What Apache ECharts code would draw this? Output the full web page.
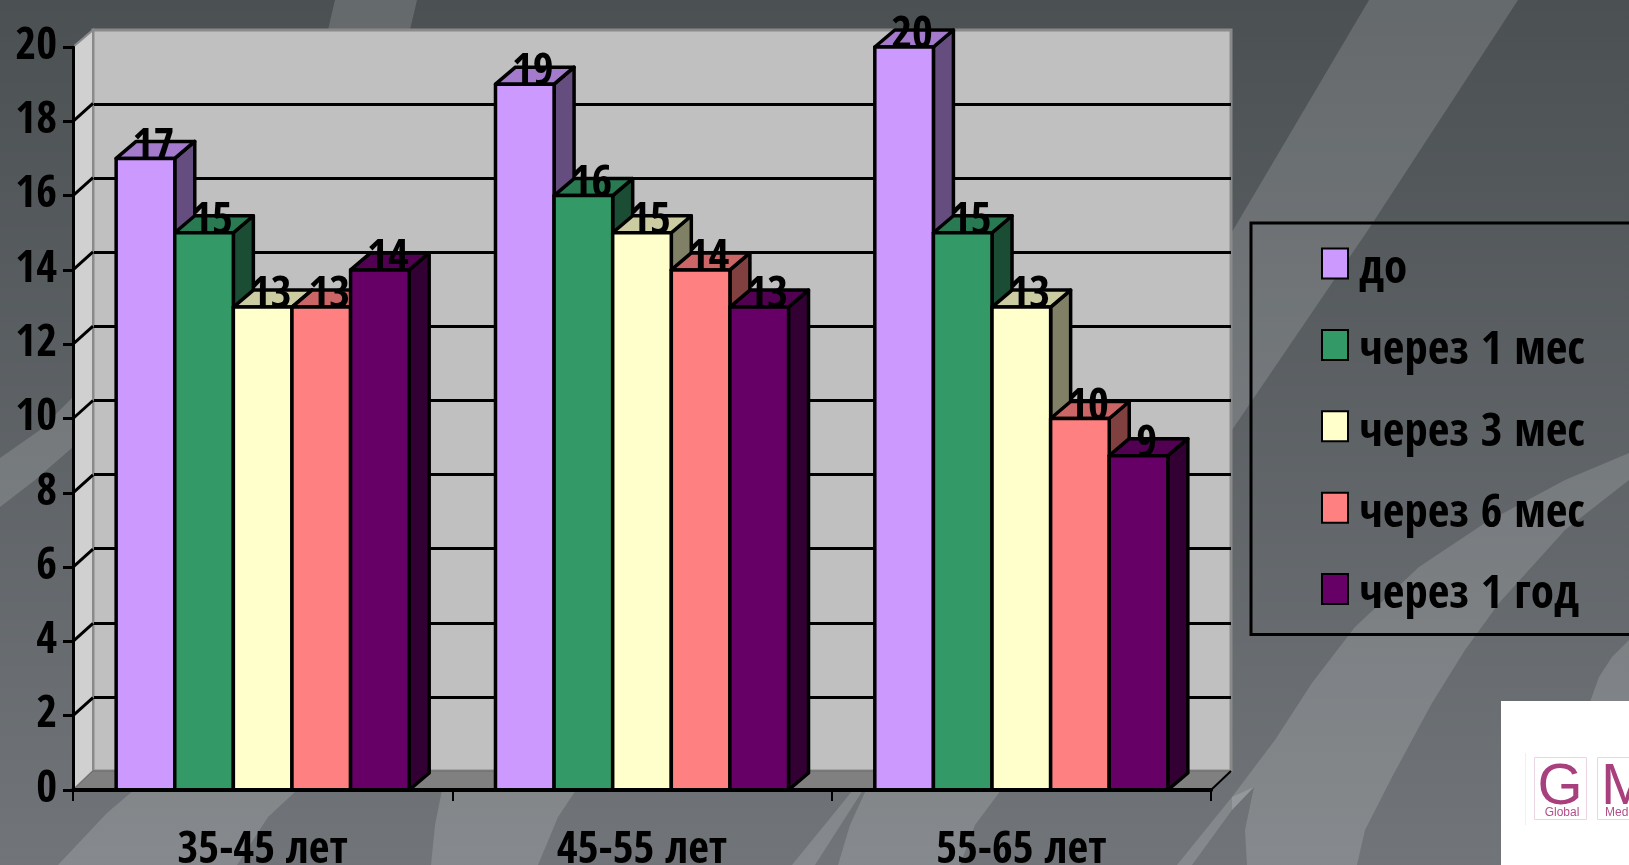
<!DOCTYPE html>
<html><head><meta charset="utf-8">
<style>html,body{margin:0;padding:0;background:#5c6064}#c{width:1629px;height:865px}</style>
<script src="https://cdn.jsdelivr.net/npm/echarts@6/dist/echarts.min.js"></script>
</head><body><div id="c"></div>
<script>
const categories = ['35-45 лет','45-55 лет','55-65 лет'];
const seriesNames = ['до','через 1 мес','через 3 мес','через 6 мес','через 1 год'];
const valuesDo = [17,19,20];
const values1m = [15,16,15];
const values3m = [13,15,13];
const values6m = [13,14,10];
const values1y = [14,13,9];
const yTicks = [0,2,4,6,8,10,12,14,16,18,20];
const allValues = [valuesDo,values1m,values3m,values6m,values1y];
const colors = ['#cc99ff','#339966','#ffffcc','#ff8080','#660066'];
const topColors = ['#a37acc','#297a52','#cccca3','#cc6666','#520052'];
const sideColors = ['#664d80','#1a4d33','#808066','#804040','#330033'];

const FONT = '"Open Sans Condensed"';
const DX = 20, DY = 17, BARW = 0.1545;

function barItem(si){
  return function(params, api){
    const c = api.coord([api.value(0), api.value(1)]);
    const base = api.coord([api.value(0), 0]);
    const band = api.size([1,0])[0];
    const w = band*BARW;
    const x0 = c[0] - 2.5*w + si*w, x1 = x0 + w, t = c[1], b = base[1];
    const line = {stroke:'#000', lineWidth:3.5, lineJoin:'round'};
    return {type:'group', children:[
      {type:'polygon', shape:{points:[[x1,t],[x1+DX,t-DY],[x1+DX,b-DY],[x1,b]]}, style:{fill:sideColors[si],...line}},
      {type:'polygon', shape:{points:[[x0,t],[x0+DX,t-DY],[x1+DX,t-DY],[x1,t]]}, style:{fill:topColors[si],...line}},
      {type:'rect', shape:{x:x0,y:t,width:w,height:b-t}, style:{fill:colors[si],...line}},
      {type:'text', x:(x0+x1)/2+8, y:t+12, style:{text:String(api.value(1)), fill:'#000',
        font:'bold 45px '+FONT, align:'center', verticalAlign:'bottom'}}
    ]};
  };
}

function frameItem(params, api){
  const cs = params.coordSys;
  const left = cs.x, right = cs.x+cs.width;
  const y0 = api.coord([0,0])[1], yT = api.coord([0,20])[1];
  const kids = [
    {type:'polygon', shape:{points:[[left,y0],[left+20,y0-19],[left+20,yT-17],[left,yT]]}, style:{fill:'#d0d0d0', stroke:'#8a8a8a', lineWidth:2}},
    {type:'polygon', shape:{points:[[left,y0],[left+20,y0-19],[right+20,y0-19],[right,y0]]}, style:{fill:'#808080', stroke:'#6a6a6a', lineWidth:1}}
  ];
  yTicks.slice(1,-1).forEach(v=>{
    const y = api.coord([0,v])[1];
    kids.push({type:'line', shape:{x1:left,y1:y,x2:left+20,y2:y-18}, style:{stroke:'#000', lineWidth:3}});
  });
  kids.push({type:'line', shape:{x1:right,y1:y0,x2:right+20,y2:y0-19}, style:{stroke:'#000', lineWidth:2}});
  return {type:'group', children:kids};
}

const band = 'rgba(255,255,255,0.15)';
const poly = (points, fill)=>({type:'polygon', z:-10, silent:true, shape:{points}, style:{fill:fill||band}});
const graphicEls = [
  {type:'rect', z:-20, silent:true, shape:{x:0,y:0,width:1629,height:865},
   style:{fill:new echarts.graphic.LinearGradient(0,0,0,1,[{offset:0,color:'#4b5053'},{offset:1,color:'#717579'}])}},
  poly([[335,0],[417,0],[410,30],[328,30]]),
  poly([[1369,0],[1518,0],[1368,230],[1232,430],[1232,232]]),
  poly([[0,458],[40,430],[73,397],[73,447],[35,480],[0,507]]),
  poly([[1232,797],[1275,740],[1312,683],[1355,627],[1419,567],[1485,523],[1565,480],[1629,453],
        [1629,480],[1565,530],[1499,603],[1465,650],[1432,703],[1392,777],[1365,830],[1357,865],
        [1247,865],[1245,830],[1254,787],[1232,810]]),
  poly([[1232,797],[1254,787],[1232,810],[1192,865],[1177,865]]),
  poly([[1590,702],[1599,677],[1612,657],[1629,640],[1629,702]]),
  poly([[134,790],[107,813],[58,865],[237,865],[268,817],[297,790]]),
  poly([[442,790],[435,825],[431,865],[538,865],[558,817],[576,790]]),
  poly([[853,790],[863,790],[815,865],[792,865]]),
  poly([[866,790],[1001,790],[975,825],[960,865],[838,865],[850,825]]),
  {type:'rect', z:-5, silent:true, shape:{x:1501,y:701,width:128,height:164}, style:{fill:'#ffffff'}},
  {type:'line', z:-4, silent:true, shape:{x1:1525.5,y1:753,x2:1525.5,y2:825}, style:{stroke:'#f4edf1',lineWidth:1}},
  {type:'rect', z:-4, silent:true, shape:{x:1534.5,y:757.5,width:52,height:62}, style:{fill:'#fff',stroke:'#ecd5e3',lineWidth:1}},
  {type:'rect', z:-4, silent:true, shape:{x:1597.5,y:757.5,width:52,height:62}, style:{fill:'#fff',stroke:'#ecd5e3',lineWidth:1}},
  {type:'text', z:-3, silent:true, x:1560, y:817, style:{text:'G', font:'58px "Liberation Sans"', fill:'#a8407e', align:'center', verticalAlign:'bottom'}},
  {type:'text', z:-3, silent:true, x:1562, y:819, style:{text:'Global', font:'12px "Liberation Sans"', fill:'#b04f88', align:'center', verticalAlign:'bottom'}},
  {type:'text', z:-3, silent:true, x:1601, y:817, style:{text:'M', font:'58px "Liberation Sans"', fill:'#a8407e', align:'left', verticalAlign:'bottom'}},
  {type:'text', z:-3, silent:true, x:1605, y:819, style:{text:'Medical', font:'12px "Liberation Sans"', fill:'#b04f88', align:'left', verticalAlign:'bottom'}}
];

const series = [
  {name:'frame', type:'custom', xAxisIndex:0, yAxisIndex:0, z:1, silent:true, clip:false, renderItem:frameItem, data:[[0,0]], encode:{x:0,y:1}}
].concat(seriesNames.map((n,si)=>({
  name:n, type:'custom', xAxisIndex:0, yAxisIndex:0, z:2+si*0.01, clip:false,
  renderItem:barItem(si), encode:{x:0,y:1},
  itemStyle:{color:colors[si], borderColor:'#000', borderWidth:3},
  data:allValues[si].map((v,i)=>[i,v])
})));

const chart = echarts.init(document.getElementById('c'), null, {renderer:'canvas'});
chart.setOption({
  animation:false,
  graphic:{elements:graphicEls},
  grid:[
    {left:73, top:47, width:1138, height:743, show:false, outerBoundsMode:'none'},
    {left:93, top:30, width:1138, height:741, show:true, z:0, backgroundColor:'#c0c0c0', borderColor:'#8a8a8a', borderWidth:3, outerBoundsMode:'none'}
  ],
  xAxis:[
    {type:'category', gridIndex:0, data:categories, z:5,
     axisLine:{lineStyle:{color:'#000',width:4}},
     axisTick:{show:true, alignWithLabel:false, length:11, lineStyle:{color:'#000',width:2}},
     axisLabel:{color:'#000', fontSize:45, fontWeight:'bold', fontFamily:FONT, margin:39}},
    {type:'category', gridIndex:1, show:false, data:categories}
  ],
  yAxis:[
    {type:'value', gridIndex:0, min:0, max:20, interval:2, z:5,
     axisLine:{show:true, lineStyle:{color:'#000',width:3}},
     axisTick:{show:true, length:10, lineStyle:{color:'#000',width:3}},
     axisLabel:{color:'#000', fontSize:45, fontWeight:'bold', fontFamily:FONT, margin:16, padding:[8,0,0,0]},
     splitLine:{show:false}},
    {type:'value', gridIndex:1, min:0, max:20, interval:2, axisLine:{show:false}, axisTick:{show:false}, axisLabel:{show:false},
     splitLine:{show:true, showMinLine:false, showMaxLine:false, lineStyle:{color:'#000',width:3}}}
  ],
  legend:{
    data:seriesNames, orient:'vertical', left:1251, top:223, icon:'rect',
    itemWidth:26, itemHeight:30, itemGap:34.4,
    padding:[24,300,15,70], borderColor:'#000', borderWidth:3,
    selectedMode:false,
    formatter:'{a|{name}}',
    textStyle:{color:'#000', rich:{a:{color:'#000', fontSize:47, fontWeight:'bold', fontFamily:FONT, padding:[14,0,0,6]}}}
  },
  series
});
</script></body></html>
